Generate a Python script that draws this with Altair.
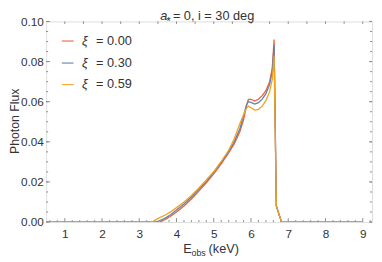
import altair as alt
import pandas as pd

# ---- data ----
energy = [0.5, 3.3, 3.35, 3.45, 3.55, 3.7, 3.85, 4.0, 4.2, 4.4, 4.6, 4.8, 5.0, 5.2, 5.4,
          5.55, 5.7, 5.8, 5.88, 5.93, 6.0, 6.1, 6.2, 6.3, 6.4, 6.5, 6.57, 6.62, 6.68, 6.82, 9.0]
flux_000 = [0, 0, 0, 0, 0, 0.0013, 0.003, 0.005, 0.008, 0.0115, 0.0155, 0.0195, 0.024, 0.029, 0.0345,
            0.039, 0.045, 0.051, 0.058, 0.0612, 0.0612, 0.0603, 0.0612, 0.063, 0.0655, 0.070, 0.0765, 0.091, 0.008, 0, 0]
flux_030 = [0, 0, 0, 0, 0.0008, 0.002, 0.0038, 0.006, 0.009, 0.0125, 0.0163, 0.0203, 0.0248, 0.0298, 0.0352,
            0.040, 0.0465, 0.053, 0.0585, 0.060, 0.0597, 0.0588, 0.0595, 0.0613, 0.064, 0.0685, 0.075, 0.088, 0.008, 0, 0]
flux_059 = [0, 0, 0, 0.0012, 0.0022, 0.0035, 0.0052, 0.0072, 0.010, 0.0133, 0.017, 0.021, 0.0252, 0.0302, 0.0358,
            0.0415, 0.049, 0.0535, 0.0568, 0.0578, 0.057, 0.0558, 0.0562, 0.0578, 0.0605, 0.065, 0.071, 0.083, 0.008, 0, 0]

series_names = ["0.00", "0.30", "0.59"]
series_values = [flux_000, flux_030, flux_059]
colors = ["#EB6235", "#5E81B5", "#F2A11F"]

x_major = [1, 2, 3, 4, 5, 6, 7, 8, 9]
x_minor = [round(0.6 + 0.2 * i, 1) for i in range(44) if abs((0.6 + 0.2 * i) - round(0.6 + 0.2 * i)) > 1e-6]
x_top = [1 + 0.5 * i for i in range(17)]
y_major = [0, 0.02, 0.04, 0.06, 0.08, 0.10]
y_minor = [round(0.005 * i, 3) for i in range(21)]

W, H = 333, 205
xs = alt.Scale(domain=[0.5, 9.25], nice=False, zero=False)
ys = alt.Scale(domain=[0, 0.1], nice=False, zero=False)
FONT = "Liberation Sans"
TXT = "#333333"
TICK = "#8a8a8a"

layers = []

# ticks (inward)
def tick_layer(vals, orient, length):
    df = pd.DataFrame({"t": vals})
    base = alt.Chart(df).mark_rule(color=TICK, strokeWidth=1)
    if orient == "bottom":
        return base.encode(x=alt.X("t:Q", scale=xs), y=alt.value(H), y2=alt.value(H - length))
    if orient == "top":
        return base.encode(x=alt.X("t:Q", scale=xs), y=alt.value(0), y2=alt.value(length))
    if orient == "left":
        return base.encode(y=alt.Y("t:Q", scale=ys), x=alt.value(0), x2=alt.value(length))
    return base.encode(y=alt.Y("t:Q", scale=ys), x=alt.value(W), x2=alt.value(W - length))

layers += [
    tick_layer(x_minor, "bottom", 2),
    tick_layer(x_major, "bottom", 4),
    tick_layer(x_top, "top", 2.5),
    tick_layer(y_minor, "left", 2),
    tick_layer(y_major, "left", 4),
    tick_layer(y_minor, "right", 2),
    tick_layer(y_major, "right", 3),
]

# axes (labels only) via an invisible layer
axis_df = pd.DataFrame({"x": [0.5], "y": [0.0]})
axes = alt.Chart(axis_df).mark_point(opacity=0).encode(
    x=alt.X("x:Q", scale=xs, axis=alt.Axis(values=x_major, format="d", ticks=False, domain=False,
                                           grid=False, labelFontSize=12, labelFont=FONT, labelColor=TXT,
                                           labelPadding=7, title=None)),
    y=alt.Y("y:Q", scale=ys, axis=alt.Axis(values=y_major, format=".2f", ticks=False, domain=False,
                                           grid=False, labelFontSize=12, labelFont=FONT, labelColor=TXT,
                                           labelPadding=3, title=None)),
)
layers.append(axes)

# lines
for name, vals, col in zip(series_names, series_values, colors):
    df = pd.DataFrame({"E": energy, "F": vals})
    layers.append(
        alt.Chart(df).mark_line(color=col, strokeWidth=1.3, clip=True).encode(
            x=alt.X("E:Q", scale=xs), y=alt.Y("F:Q", scale=ys)
        )
    )

# legend
row_y = [20, 42.5, 64.5]
for name, col, ry in zip(series_names, colors, row_y):
    layers.append(alt.Chart(axis_df).mark_rule(color=col, strokeWidth=1.3, opacity=0.85).encode(
        x=alt.value(16), x2=alt.value(28), y=alt.value(ry)))
    layers.append(alt.Chart(axis_df).mark_text(text="ξ", font=FONT, fontSize=13, fontStyle="italic",
                                              align="left", baseline="middle", color=TXT).encode(
        x=alt.value(36.5), y=alt.value(ry)))
    layers.append(alt.Chart(axis_df).mark_text(text="= " + name, font=FONT, fontSize=13,
                                              align="left", baseline="middle", color=TXT).encode(
        x=alt.value(51), y=alt.value(ry)))

# title pieces
def txt(t, x, y, size, style="normal", align="left", angle=0):
    kw = dict(text=t, font=FONT, fontSize=size, fontStyle=style, align=align,
              baseline="alphabetic", color=TXT)
    if angle:
        kw["angle"] = angle
        kw["baseline"] = "middle"
    return alt.Chart(axis_df).mark_text(**kw).encode(x=alt.value(x), y=alt.value(y))

layers += [
    txt("a", 116.5, -2, 13, "italic"),
    txt("*", 123, 4, 11),
    txt("= 0, i = 30 deg", 129.5, -2, 13),
    txt("E", 140, 237, 13),
    txt("obs", 148.5, 240, 9),
    txt("(keV)", 166, 237, 13),
    txt("Photon Flux", -31.5, 102, 12.5, align="center", angle=270),
]

chart = alt.layer(*layers).properties(
    width=W, height=H,
    padding={"left": 39, "top": 11, "right": 2, "bottom": 36},
    autosize="none",
).configure_view(stroke="#8a8a8a", strokeWidth=1).configure(background="white")

chart.save("out.html", embed_options={"renderer": "svg", "actions": False})
